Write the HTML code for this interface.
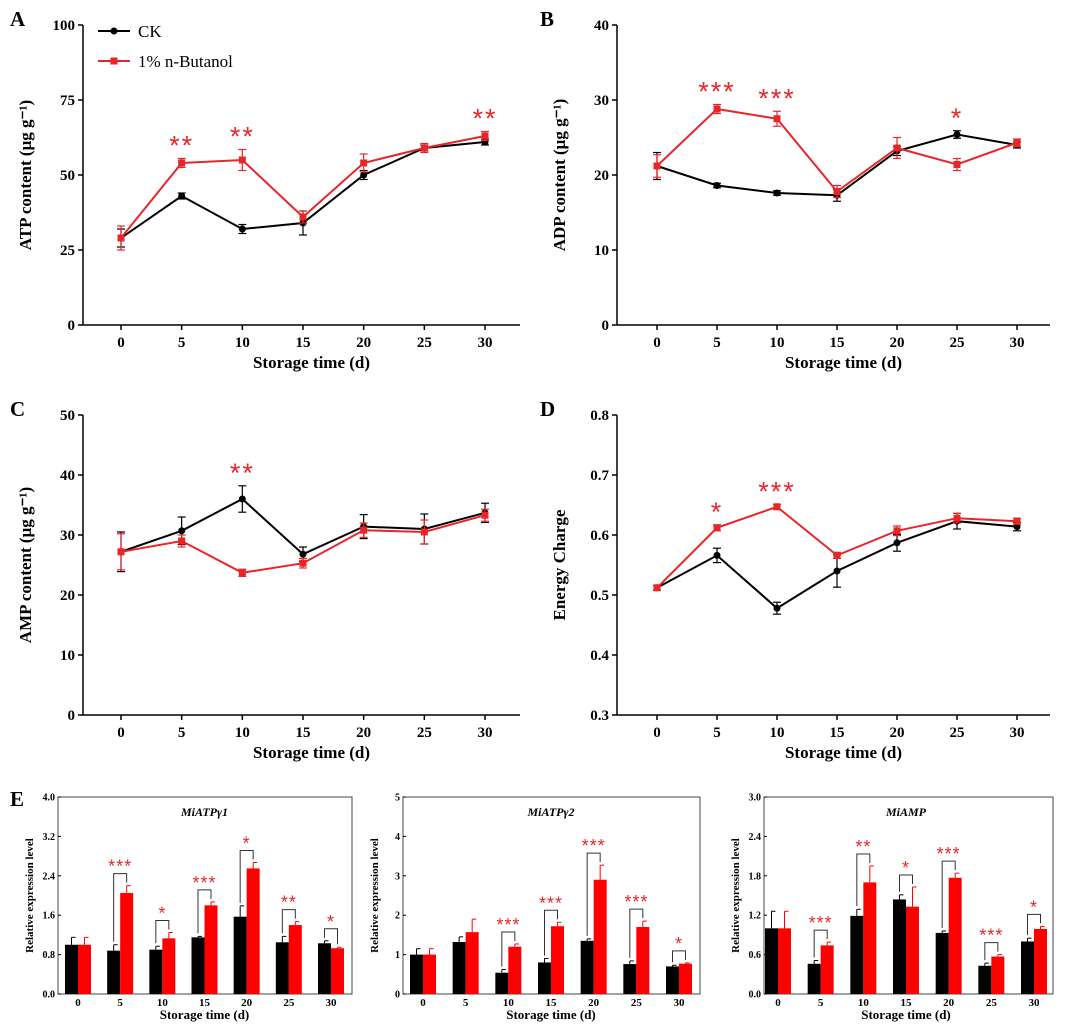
<!DOCTYPE html>
<html><head><meta charset="utf-8"><style>
html,body{margin:0;padding:0;background:#fff}
svg{display:block;font-family:"Liberation Serif",serif}
</style></head><body>
<svg id="fig" width="1080" height="1030" viewBox="0 0 1080 1030" xmlns="http://www.w3.org/2000/svg"></svg>
<script>
const days=[0,5,10,15,20,25,30];
const atpCK=[29,43,32,34,50,59,61];
const atpCKerr=[3,1,1.5,4,1.5,1,1];
const atpBu=[29,54,55,36,54,59,63];
const atpBuErr=[4,1.5,3.5,2,3,1.5,1.5];
const atpSig=["","**","**","","","","**"];
const adpCK=[21.2,18.6,17.6,17.3,23.2,25.4,24.0];
const adpCKerr=[1.8,0.3,0.3,0.8,0.6,0.5,0.4];
const adpBu=[21.2,28.8,27.5,17.8,23.6,21.4,24.3];
const adpBuErr=[1.5,0.6,1,0.8,1.4,0.8,0.5];
const adpSig=["","***","***","","","*",""];
const ampCK=[27.2,30.7,36,26.8,31.4,31,33.7];
const ampCKerr=[3.3,2.3,2.2,1.2,2,2.5,1.6];
const ampBu=[27.2,29,23.7,25.3,30.8,30.5,33.3];
const ampBuErr=[3,1,0.6,0.8,1.2,2,1];
const ampSig=["","","**","","","",""];
const ecCK=[0.512,0.566,0.478,0.54,0.587,0.623,0.614];
const ecCKerr=[0.004,0.012,0.01,0.027,0.014,0.013,0.007];
const ecBu=[0.512,0.612,0.647,0.566,0.607,0.628,0.623];
const ecBuErr=[0.004,0.005,0.004,0.005,0.008,0.008,0.005];
const ecSig=["","*","***","","","",""];
const g1CK=[1.0,0.88,0.9,1.15,1.57,1.05,1.03];
const g1CKerr=[0.15,0.12,0.07,0.02,0.22,0.12,0.05];
const g1Red=[1.0,2.05,1.13,1.8,2.55,1.4,0.93];
const g1RedErr=[0.15,0.15,0.12,0.07,0.12,0.07,0.02];
const g1Sig=["","***","*","***","*","**","*"];
const g2CK=[1.0,1.32,0.54,0.8,1.35,0.76,0.7];
const g2CKerr=[0.15,0.13,0.08,0.1,0.05,0.08,0.03];
const g2Red=[1.0,1.57,1.2,1.72,2.9,1.7,0.77];
const g2RedErr=[0.15,0.33,0.07,0.1,0.37,0.15,0.02];
const g2Sig=["","","***","***","***","***","*"];
const g3CK=[1.0,0.46,1.19,1.44,0.93,0.43,0.8];
const g3CKerr=[0.26,0.05,0.1,0.07,0.03,0.04,0.05];
const g3Red=[1.0,0.74,1.7,1.33,1.77,0.57,0.99];
const g3RedErr=[0.26,0.05,0.25,0.3,0.07,0.03,0.04];
const g3Sig=["","***","**","*","***","***","*"];

const svg=document.getElementById('fig');
const NS="http://www.w3.org/2000/svg";
function el(tag,attrs,parent,text){const e=document.createElementNS(NS,tag);for(const k in attrs)e.setAttribute(k,attrs[k]);if(text!==undefined)e.textContent=text;(parent||svg).appendChild(e);return e;}
const RED="#e8262a";

function linePanel(o){
  const g=el('g',{});
  
  
  const sx=d=>o.x0+(d-0)*(o.x30-o.x0)/30;
  const sy=v=>o.yb-(v-o.vmin)*(o.yb-o.yt)/(o.vmax-o.vmin);
  el('line',{x1:o.ax,y1:o.yt,x2:o.ax,y2:o.yb,stroke:'#000','stroke-width':1.5},g);
  el('line',{x1:o.ax,y1:o.yb,x2:o.axr,y2:o.yb,stroke:'#000','stroke-width':1.5},g);
  o.ticks.forEach((t,i)=>{const y=sy(t);
    el('line',{x1:o.ax-5,y1:y,x2:o.ax,y2:y,stroke:'#000','stroke-width':1.5},g);
    const tx=el('text',{x:o.ax-8,y:y+5,'text-anchor':'end','font-size':15,'font-weight':'bold'},g,o.tickLabels[i]);
    });
  days.forEach(d=>{const x=sx(d);
    el('line',{x1:x,y1:o.yb,x2:x,y2:o.yb+5,stroke:'#000','stroke-width':1.5},g);
    const tx=el('text',{x:x,y:o.yb+22,'text-anchor':'middle','font-size':15,'font-weight':'bold'},g,String(d));
    });
  const xt=el('text',{x:(o.ax+o.axr)/2+10,y:o.yb+43,'text-anchor':'middle','font-size':17,'font-weight':'bold'},g,'Storage time (d)');
  
  const yt=el('text',{transform:`translate(${o.ax-52},${(o.yt+o.yb)/2}) rotate(-90)`,'text-anchor':'middle','font-size':17,'font-weight':'bold'},g,o.ylabel);
  
  const lt=el('text',{x:o.lx,y:o.ly,'font-size':21,'font-weight':'bold'},g,o.letter);
  
  [[o.ck,o.ckErr,'#000','circle'],[o.bu,o.buErr,RED,'square']].forEach(([vals,errs,c,m])=>{
    el('polyline',{points:vals.map((v,i)=>sx(days[i])+','+sy(v)).join(' '),fill:'none',stroke:c,'stroke-width':2},g);
    vals.forEach((v,i)=>{const x=sx(days[i]),y=sy(v),e1=sy(v+errs[i]),e2=sy(v-errs[i]);
      el('line',{x1:x,y1:e1,x2:x,y2:e2,stroke:c,'stroke-width':1.2},g);
      el('line',{x1:x-4,y1:e1,x2:x+4,y2:e1,stroke:c,'stroke-width':1.2},g);
      el('line',{x1:x-4,y1:e2,x2:x+4,y2:e2,stroke:c,'stroke-width':1.2},g);
      let mk;
      if(m==='circle')mk=el('circle',{cx:x,cy:y,r:3.5,fill:c},g);
      else mk=el('rect',{x:x-3.5,y:y-3.5,width:7,height:7,fill:c},g);
      
      });
  });
  o.sig.forEach((s,i)=>{if(!s)return;const top=Math.max(o.bu[i]+o.buErr[i],o.ck[i]+o.ckErr[i]);
    const t=el('text',{x:sx(days[i]),y:sy(top)-4,'text-anchor':'middle','font-size':27,'letter-spacing':2,fill:RED,'font-family':'Liberation Sans,sans-serif'},g,s);
    });
  return g;
}

linePanel({name:'panel-a-atp',letter:'A',lx:10,ly:26,ax:83,axr:520,yt:25,yb:325,x0:121,x30:485,vmin:0,vmax:100,ticks:[0,25,50,75,100],tickLabels:['0','25','50','75','100'],ylabel:'ATP content (μg g⁻¹)',ck:atpCK,ckErr:atpCKerr,bu:atpBu,buErr:atpBuErr,sig:atpSig});
linePanel({name:'panel-b-adp',letter:'B',lx:540,ly:26,ax:617,axr:1050,yt:25,yb:325,x0:657,x30:1017,vmin:0,vmax:40,ticks:[0,10,20,30,40],tickLabels:['0','10','20','30','40'],ylabel:'ADP content (μg g⁻¹)',ck:adpCK,ckErr:adpCKerr,bu:adpBu,buErr:adpBuErr,sig:adpSig});
linePanel({name:'panel-c-amp',letter:'C',lx:10,ly:416,ax:83,axr:520,yt:415,yb:715,x0:121,x30:485,vmin:0,vmax:50,ticks:[0,10,20,30,40,50],tickLabels:['0','10','20','30','40','50'],ylabel:'AMP content (μg g⁻¹)',ck:ampCK,ckErr:ampCKerr,bu:ampBu,buErr:ampBuErr,sig:ampSig});
linePanel({name:'panel-d-energy-charge',letter:'D',lx:540,ly:416,ax:617,axr:1050,yt:415,yb:715,x0:657,x30:1017,vmin:0.3,vmax:0.8,ticks:[0.3,0.4,0.5,0.6,0.7,0.8],tickLabels:['0.3','0.4','0.5','0.6','0.7','0.8'],ylabel:'Energy Charge',ck:ecCK,ckErr:ecCKerr,bu:ecBu,buErr:ecBuErr,sig:ecSig});

const lg=el('g',{});
el('line',{x1:98,y1:31,x2:130,y2:31,stroke:'#000','stroke-width':2},lg);el('circle',{cx:114,cy:31,r:3.5,fill:'#000'},lg);
el('text',{x:138,y:37,'font-size':17},lg,'CK');
el('line',{x1:98,y1:61,x2:130,y2:61,stroke:RED,'stroke-width':2},lg);el('rect',{x:110.5,y:57.5,width:7,height:7,fill:RED},lg);
el('text',{x:138,y:67,'font-size':17},lg,'1% n-Butanol');

const eL=el('text',{x:10,y:806,'font-size':21,'font-weight':'bold'},svg,'E');


function barPanel(o){
  const g=el('g',{});
  
  const yt=797,yb=994;
  const sx=d=>o.x0+d*(o.x30-o.x0)/30;
  const sy=v=>yb-v*(yb-yt)/o.vmax;
  el('rect',{x:o.l,y:yt,width:o.r-o.l,height:yb-yt,fill:'none',stroke:'#444','stroke-width':1},g);
  o.ticks.forEach((t,i)=>{const y=sy(t);el('line',{x1:o.l,y1:y,x2:o.l+3,y2:y,stroke:'#000'},g);
    const tx=el('text',{x:o.l-3,y:y+3.5,'text-anchor':'end','font-size':10,'font-weight':'bold'},g,o.tickLabels[i]);
    });
  days.forEach(d=>{const tx=el('text',{x:sx(d),y:yb+12,'text-anchor':'middle','font-size':11,'font-weight':'bold'},g,String(d));
    });
  const xt=el('text',{x:sx(15),y:yb+25,'text-anchor':'middle','font-size':13,'font-weight':'bold'},g,'Storage time (d)');
  
  const yl=el('text',{transform:`translate(${o.l-25},${(yt+yb)/2}) rotate(-90)`,'text-anchor':'middle','font-size':11,'font-weight':'bold'},g,'Relative expression level');
  
  const ti=el('text',{x:sx(15),y:yt+19,'text-anchor':'middle','font-size':12,'font-weight':'bold','font-style':'italic'},g,o.title);
  
  const bw=13;
  days.forEach((d,i)=>{const c=sx(d);
    [[o.ck[i],o.ckErr[i],c-bw,'#000','ck-bar'],[o.red[i],o.redErr[i],c,'#f00','butanol-bar']].forEach(([v,e,x,col,nm])=>{
      const b=el('rect',{x:x,y:sy(v),width:bw,height:yb-sy(v),fill:col},g);
      
      const ex=x+bw/2,ey=sy(v+e);
      el('line',{x1:ex,y1:sy(v),x2:ex,y2:ey,stroke:col,'stroke-width':1},g);
      el('line',{x1:ex,y1:ey,x2:ex+4,y2:ey,stroke:col,'stroke-width':1},g);
    });
    if(o.sig[i]){
      const top=Math.max(o.ck[i]+o.ckErr[i],o.red[i]+o.redErr[i]);
      const by=sy(top)-12;
      const xa=c-bw/2,xb=c+bw/2;
      el('polyline',{points:`${xa},${sy(o.ck[i]+o.ckErr[i])-3} ${xa},${by} ${xb},${by} ${xb},${sy(o.red[i]+o.redErr[i])-3}`,fill:'none',stroke:'#333','stroke-width':1},g);
      const s=el('text',{x:c,y:by-1,'text-anchor':'middle','font-size':18,'letter-spacing':1,fill:RED,'font-family':'Liberation Sans,sans-serif'},g,o.sig[i]);
      
    }
  });
}
barPanel({name:'chart-miatp-gamma1',title:'MiATPγ1',l:58,r:352,x0:78,x30:331,vmax:4,ticks:[0,0.8,1.6,2.4,3.2,4.0],tickLabels:['0.0','0.8','1.6','2.4','3.2','4.0'],ck:g1CK,ckErr:g1CKerr,red:g1Red,redErr:g1RedErr,sig:g1Sig});
barPanel({name:'chart-miatp-gamma2',title:'MiATPγ2',l:403,r:700,x0:423,x30:679,vmax:5,ticks:[0,1,2,3,4,5],tickLabels:['0','1','2','3','4','5'],ck:g2CK,ckErr:g2CKerr,red:g2Red,redErr:g2RedErr,sig:g2Sig});
barPanel({name:'chart-miamp',title:'MiAMP',l:764,r:1053,x0:778,x30:1034,vmax:3,ticks:[0,0.6,1.2,1.8,2.4,3.0],tickLabels:['0.0','0.6','1.2','1.8','2.4','3.0'],ck:g3CK,ckErr:g3CKerr,red:g3Red,redErr:g3RedErr,sig:g3Sig});
</script>
</body></html>
